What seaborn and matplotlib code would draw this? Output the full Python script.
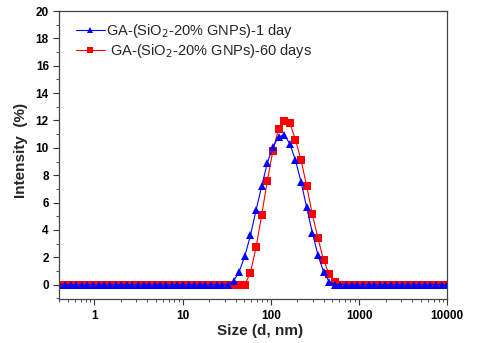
import matplotlib
matplotlib.use("Agg")
import matplotlib.pyplot as plt
import seaborn as sns
import pandas as pd
import numpy as np
from matplotlib.ticker import FixedLocator, MultipleLocator, LogLocator, NullFormatter
from matplotlib.lines import Line2D

# Malvern size bins (d, nm)
sizes = [0.4, 0.4632, 0.5365, 0.6213, 0.7195, 0.8332, 0.9649, 1.117, 1.294, 1.499,
         1.736, 2.01, 2.328, 2.696, 3.122, 3.615, 4.187, 4.849, 5.615, 6.503,
         7.531, 8.721, 10.1, 11.7, 13.54, 15.69, 18.17, 21.04, 24.36, 28.21,
         32.67, 37.84, 43.82, 50.75, 58.77, 68.06, 78.82, 91.28, 105.7, 122.4,
         141.8, 164.2, 190.1, 220.2, 255.0, 295.3, 342.0, 396.1, 458.7, 531.2,
         615.1, 712.4, 825.0, 955.4, 1106, 1281, 1484, 1718, 1990, 2305,
         2669, 3091, 3580, 4145, 4801, 5560, 6439, 7456, 8635, 10000]

# peak values (bins 37.84 ... 531.2), zeros elsewhere
peak_1day = [0.27, 0.95, 2.1, 3.6, 5.45, 7.2, 8.9, 10.07, 10.8, 10.95,
             10.3, 9.1, 7.5, 5.65, 3.8, 2.17, 0.95, 0.22, 0.0]
peak_60days = [0.0, 0.0, 0.0, 0.88, 2.73, 5.1, 7.6, 9.8, 11.4, 11.95,
               11.8, 10.6, 9.1, 7.2, 5.15, 3.4, 1.8, 0.76, 0.22]

n_before = 31  # bins before 37.84
n_after = len(sizes) - n_before - len(peak_1day)
intensity_1day = [0.0] * n_before + peak_1day + [0.0] * n_after
intensity_60days = [0.0] * n_before + peak_60days + [0.0] * n_after

labels = ["GA-(SiO$_2$-20% GNPs)-1 day", " GA-(SiO$_2$-20% GNPs)-60 days"]
xtick_values = [1, 10, 100, 1000, 10000]
xtick_labels = ["1", "10", "100", "1000", "10000"]

df = pd.DataFrame({
    "size": sizes * 2,
    "intensity": intensity_60days + intensity_1day,
    "series": [labels[1]] * len(sizes) + [labels[0]] * len(sizes),
})

sns.set_style("white")
plt.rcParams['font.family'] = ['Liberation Sans', 'DejaVu Sans']

fig = plt.figure(figsize=(4.8, 3.43), dpi=100)
ax = fig.add_axes([0.1235, 0.1274, 0.8083, 0.8405])

sns.lineplot(data=df, x="size", y="intensity", hue="series", style="series",
             hue_order=[labels[1], labels[0]],
             palette={labels[1]: "#ff0000", labels[0]: "#0000ff"},
             markers={labels[1]: "s", labels[0]: "^"},
             dashes=False, markersize=5.2, markeredgewidth=0, linewidth=0.8,
             ax=ax, legend=False, estimator=None, sort=True)

ax.set_xscale("log")
ax.set_xlim(0.4, 10000)
ax.set_ylim(-1.07, 20)

ax.xaxis.set_major_locator(FixedLocator(xtick_values))
ax.set_xticklabels(xtick_labels)
ax.xaxis.set_minor_locator(LogLocator(base=10, subs=np.arange(2, 10)))
ax.xaxis.set_minor_formatter(NullFormatter())
ax.yaxis.set_major_locator(MultipleLocator(2))
ax.yaxis.set_minor_locator(MultipleLocator(1))

ax.tick_params(which="major", direction="out", length=4, width=0.8, colors="#333333",
               labelsize=8.5, labelcolor="black", bottom=True, left=True, top=False, right=False)
ax.tick_params(which="minor", direction="out", length=2, width=0.6, colors="#333333",
               bottom=True, left=True, top=False, right=False)
for lab in ax.get_xticklabels() + ax.get_yticklabels():
    lab.set_fontweight("bold")

for sp in ax.spines.values():
    sp.set_color("#444444")
    sp.set_linewidth(0.9)

ax.set_xlabel("Size (d, nm)", fontsize=11, fontweight="bold")
ax.set_ylabel("Intensity  (%)", fontsize=11, fontweight="bold")
ax.xaxis.set_label_coords(0.518, -0.085)
ax.yaxis.set_label_coords(-0.08, 0.518)

handles = [Line2D([], [], color="#0000ff", marker="^", markersize=5, markeredgewidth=0, linewidth=0.8),
           Line2D([], [], color="#ff0000", marker="s", markersize=4.5, markeredgewidth=0, linewidth=0.8)]
ax.legend(handles, labels, loc="upper left", frameon=False, fontsize=10.5,
          handlelength=2.0, handletextpad=0.1, labelspacing=0.15,
          bbox_to_anchor=(0.008, 1.008))

fig.savefig("out.png", dpi=100)
